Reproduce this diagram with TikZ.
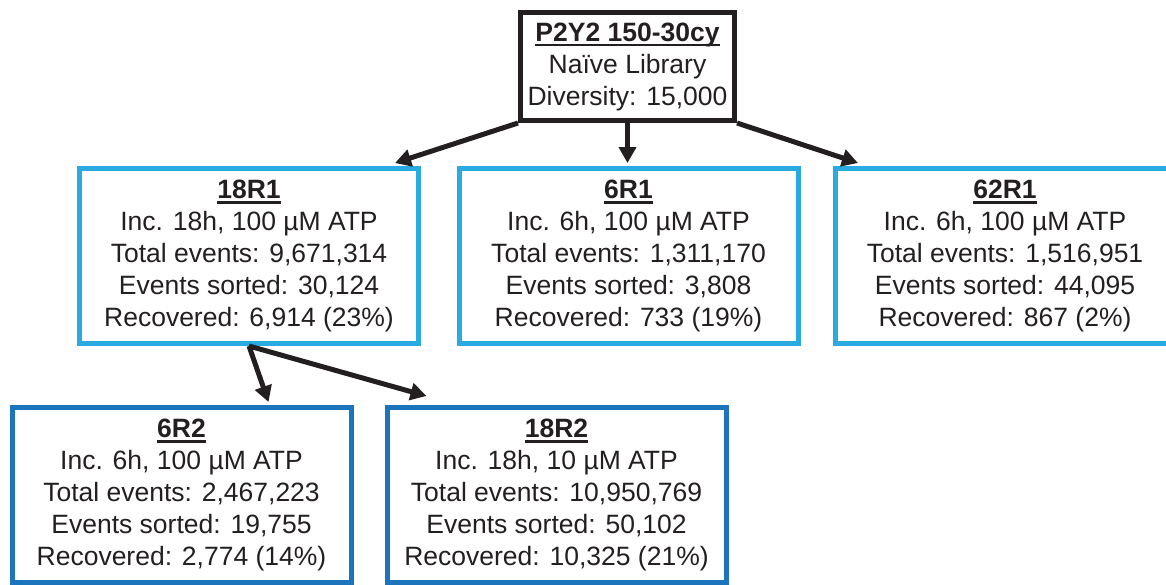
\documentclass[tikz,border=0pt]{standalone}
\usepackage{fontspec}
\setmainfont{Liberation Sans}
\newcommand{\heading}[1]{\setbox0=\hbox{\bfseries #1}\leavevmode\rlap{\rule[-5pt]{\wd0}{2.5pt}}\box0}
\definecolor{inkblack}{RGB}{35,31,32}
\definecolor{roundone}{RGB}{41,171,226}
\definecolor{roundtwo}{RGB}{28,117,188}
\usetikzlibrary{arrows.meta,positioning,calc}

\begin{document}
\begin{tikzpicture}[x=1pt, y=-1pt,
    font=\fontsize{26.5}{32}\selectfont, text=inkblack,
    sortbox/.style={rectangle, line width=5pt, minimum width=339pt,
                  minimum height=175pt, align=center, inner sep=2pt},
    libbox/.style={sortbox, draw=inkblack, minimum width=214pt, minimum height=108pt},
    arrow/.style={-{Triangle[length=16pt,width=17pt]}, line width=5pt, inkblack}]

\useasboundingbox (0,0) rectangle (1166,584);

\node[libbox] (lib) at (627.5,66.5) {\heading{P2Y2 150-30cy}\\Naïve Library\\Diversity: 15,000};

% first round
\node[sortbox, draw=roundone] (r18a) at (249,256) {\heading{18R1}\\Inc. 18h, 100 µM ATP\\Total events: 9,671,314\\Events sorted: 30,124\\Recovered: 6,914 (23\%)};
\node[sortbox, draw=roundone] (r6a) at (628.5,256) {\heading{6R1}\\Inc. 6h, 100 µM ATP\\Total events: 1,311,170\\Events sorted: 3,808\\Recovered: 733 (19\%)};
\node[sortbox, draw=roundone] (r62a) at (1005,256) {\heading{62R1}\\Inc. 6h, 100 µM ATP\\Total events: 1,516,951\\Events sorted: 44,095\\Recovered: 867 (2\%)};

% second round
\node[sortbox, draw=roundtwo] (r6b) at (181.5,495) {\heading{6R2}\\Inc. 6h, 100 µM ATP\\Total events: 2,467,223\\Events sorted: 19,755\\Recovered: 2,774 (14\%)};
\node[sortbox, draw=roundtwo] (r18b) at (556.5,495) {\heading{18R2}\\Inc. 18h, 10 µM ATP\\Total events: 10,950,769\\Events sorted: 50,102\\Recovered: 10,325 (21\%)};

\draw[arrow] (lib.south west) -- ([xshift=-26pt,yshift=3pt]r18a.north east);
\draw[arrow] (lib.south) -- ([yshift=3pt]lib.south |- r6a.north);
\draw[arrow] (lib.south east) -- ([xshift=25pt,yshift=3pt]r62a.north west);

\draw[arrow] (r18a.south) -- ([xshift=-85pt,yshift=3pt]r6b.north east);
\draw[arrow] (r18a.south) -- ([xshift=42pt,yshift=9pt]r18b.north west);
\end{tikzpicture}
\end{document}
